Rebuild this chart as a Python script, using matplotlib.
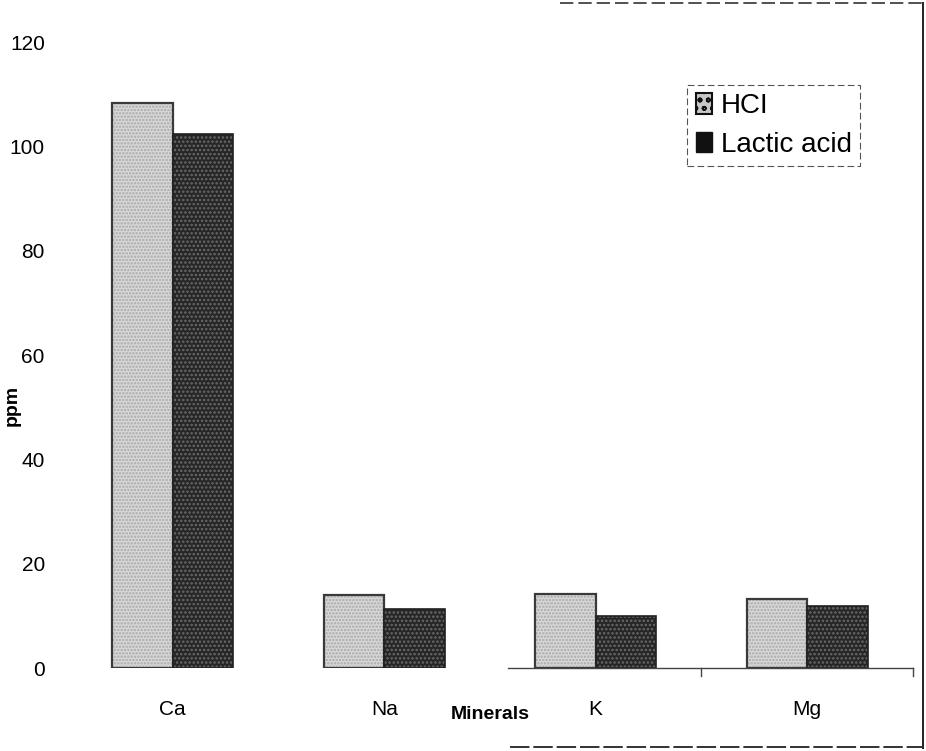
import matplotlib
matplotlib.use('Agg')
import matplotlib.pyplot as plt
from matplotlib.patches import Patch
from matplotlib.lines import Line2D
import numpy as np

minerais = ['Ca', 'Na', 'K', 'Mg']
hcl = [108.3, 14.0, 14.1, 13.3]
lactico = [102.3, 11.4, 9.9, 11.8]
series = ['HCI', 'Lactic acid']

plt.rcParams['font.family'] = ['Liberation Sans', 'DejaVu Sans']
plt.rcParams['hatch.linewidth'] = 1.2

fig = plt.figure(figsize=(9.26, 7.51), dpi=100)
ax = fig.add_axes([0.0724, 0.1105, 0.9135, 0.8335])

x = np.arange(len(minerais))
w = 0.287

# preenchimento pontilhado + contorno separado
ax.bar(x - w/2, hcl, w, color='#d9d9d9', edgecolor='#a8a8a8', hatch='.....', linewidth=0)
ax.bar(x - w/2, hcl, w, fill=False, edgecolor='#3a3a3a', linewidth=1.6)
ax.bar(x + w/2, lactico, w, color='#262626', edgecolor='#6a6a6a', hatch='....', linewidth=0)
ax.bar(x + w/2, lactico, w, fill=False, edgecolor='#202020', linewidth=1.2)

ax.set_xlim(-0.5, 3.5)
ax.set_ylim(0, 120)
ax.set_yticks(range(0, 121, 20))
ax.set_xticks(x)
ax.set_xticklabels(minerais)
ax.tick_params(axis='y', length=0, pad=16, labelsize=15)
ax.tick_params(axis='x', length=0, pad=23, labelsize=15)

for s in ['top', 'right', 'left']:
    ax.spines[s].set_visible(False)
ax.spines['bottom'].set_bounds(1.585, 3.5)
ax.spines['bottom'].set_color('#444444')
ax.spines['bottom'].set_linewidth(1.0)
for xt in [2.5, 3.5]:
    ax.plot([xt, xt], [0, -1.6], color='#444444', lw=1.0, clip_on=False)

ax.set_xlabel('Minerals', fontsize=14, fontweight='bold', labelpad=-9)
ax.set_ylabel('ppm', fontsize=14, fontweight='bold')
ax.yaxis.set_label_coords(-0.055, 0.42)

leg_h = [Patch(facecolor='#c8c8c8', edgecolor='#111111', hatch='oo', linewidth=1.5),
         Patch(facecolor='#111111', edgecolor='#111111')]
leg = ax.legend(leg_h, series, loc='upper left', bbox_to_anchor=(0.717, 0.954),
                fontsize=20, handlelength=0.6, handleheight=0.75, handletextpad=0.3,
                labelspacing=0.45, borderpad=0.3, fancybox=False, framealpha=1)
leg.get_frame().set_edgecolor('#555555')
leg.get_frame().set_linewidth(0.8)
leg.get_frame().set_linestyle((0, (6, 3)))

# moldura parcial da figura
fig.add_artist(Line2D([560/926, 923/926], [1-3/751, 1-3/751], color='#333333', lw=1.2, ls=(0, (8, 3))))
fig.add_artist(Line2D([923/926, 923/926], [1-3/751, 1-748/751], color='#222222', lw=1.4))
fig.add_artist(Line2D([510/926, 923/926], [1-747/751, 1-747/751], color='#333333', lw=1.4, ls=(0, (10, 2))))

fig.savefig('out.png', dpi=100)
